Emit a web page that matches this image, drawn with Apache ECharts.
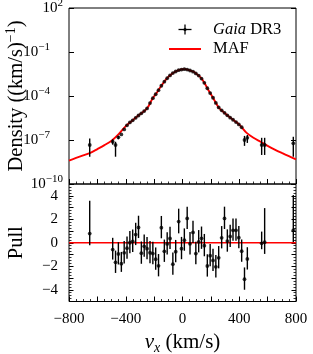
<!DOCTYPE html>
<html><head><meta charset="utf-8">
<script src="https://cdn.jsdelivr.net/npm/echarts@6/dist/echarts.min.js"></script>
<style>html,body{margin:0;padding:0;background:#fff}#c{width:313px;height:354px}</style>
</head><body><div id="c"></div>
<script>
// ---- data ----
const binV = [-654, -492, -472, -452, -431, -411, -391, -371, -351, -330, -310, -290, -270, -250, -229, -209, -189, -169, -149, -128, -108, -88, -68, -48, -27, -7, 13, 33, 53, 74, 94, 114, 134, 154, 175, 195, 215, 235, 255, 276, 296, 316, 336, 356, 377, 397, 417, 437, 457, 558, 579, 781];
const densityLog10 = [-7.34, -7.12, -7.34, -6.82, -6.62, -6.28, -6.00, -5.80, -5.66, -5.49, -5.33, -5.18, -5.03, -4.85, -4.48, -4.15, -3.88, -3.60, -3.30, -3.02, -2.79, -2.60, -2.44, -2.33, -2.24, -2.20, -2.17, -2.20, -2.26, -2.34, -2.46, -2.61, -2.81, -3.10, -3.47, -3.80, -4.12, -4.47, -4.78, -4.98, -5.15, -5.32, -5.48, -5.62, -5.78, -5.94, -6.13, -7.00, -6.85, -7.34, -7.34, -7.23];
const pull = [0.78, -0.58, -1.67, -0.95, -1.78, -0.86, -0.46, 0.00, 0.12, 0.70, 1.30, -0.89, -0.30, -0.50, -0.85, -0.92, -1.40, -1.96, 1.28, -0.73, -0.10, 0.36, -1.82, -0.76, 1.80, -0.50, 0.22, 2.07, -0.09, 0.88, -0.92, 0.08, 0.38, -0.25, -1.98, -1.10, -1.50, -2.05, -1.28, 0.42, 2.07, 0.14, 0.54, 1.06, 1.06, 0.43, -0.72, -3.10, -1.38, -0.05, 0.05, 1.06];
const pullErrUp = [2.8, 1.0, 1.0, 1.0, 1.0, 1.0, 1.0, 1.0, 1.0, 1.0, 1.0, 1.0, 1.0, 1.0, 1.0, 1.0, 1.0, 1.0, 1.0, 1.0, 1.0, 1.0, 1.0, 1.0, 1.1, 1.0, 1.0, 1.0, 1.0, 1.0, 1.0, 1.0, 1.0, 1.0, 1.0, 1.0, 1.0, 1.0, 1.0, 1.0, 1.0, 1.0, 1.0, 1.0, 1.0, 1.0, 1.0, 1.0, 1.0, 1.0, 2.9, 3.0];
const pullErrDown = [1.0, 0.85, 0.9, 0.9, 0.7, 0.9, 0.9, 0.9, 0.9, 0.9, 0.9, 0.9, 0.9, 0.9, 0.9, 0.9, 0.9, 0.9, 0.9, 0.9, 0.9, 0.9, 0.9, 0.9, 1.0, 0.9, 0.9, 0.9, 0.9, 0.9, 0.9, 0.9, 0.9, 0.9, 0.9, 0.9, 0.9, 0.9, 0.9, 0.9, 0.9, 0.9, 0.9, 0.9, 0.9, 0.9, 0.9, 0.9, 0.9, 0.5, 1.0, 1.0];
// visible density error bars (log10 of upper / lower ends)
const errBarV = [-654, -492, -472, -452, 437, 457, 558, 579, 781];
const errBarHiLog10 = [-6.89, -6.95, -7.12, -6.72, -6.72, -6.66, -6.85, -6.85, -6.78];
const errBarLoLog10 = [-8.14, -7.32, -8.14, -6.95, -7.40, -7.20, -8.02, -8.02, -8.14];
// MAF model curve
const modelV = [-800, -750, -700, -650, -600, -550, -500, -450, -400, -350, -300, -260, -240, -220, -200, -180, -160, -140, -120, -100, -80, -60, -40, -20, 0, 20, 40, 60, 80, 100, 120, 140, 160, 180, 200, 220, 240, 260, 290, 320, 360, 400, 450, 500, 550, 600, 650, 700, 750, 800];
const modelLog10 = [-8.40, -8.22, -8.05, -7.88, -7.62, -7.35, -7.05, -6.60, -6.05, -5.65, -5.25, -4.95, -4.70, -4.32, -4.02, -3.76, -3.46, -3.18, -2.92, -2.70, -2.53, -2.40, -2.29, -2.22, -2.18, -2.17, -2.22, -2.28, -2.36, -2.50, -2.66, -2.88, -3.20, -3.56, -3.88, -4.20, -4.55, -4.85, -5.10, -5.35, -5.65, -5.95, -6.50, -6.85, -7.12, -7.40, -7.65, -7.88, -8.10, -8.32];
const xTickLabels = [-800, -400, 0, 400, 800];
const pullTickLabels = [-4, -2, 0, 2, 4];
const legendNames = ['Gaia DR3', 'MAF'];

const OFF = 10; // y axis of density panel shows log10(density) + OFF
const FONT = 'Liberation Serif';
const minus = s => String(s).replace('-', '\u2212');

const chart = echarts.init(document.getElementById('c'), null, {renderer: 'canvas'});

const tickCommon = {show: true, inside: true, length: 5, lineStyle: {color: '#000', width: 1}};
const minorCommon = {show: true, splitNumber: 4, length: 2.5, lineStyle: {color: '#000', width: 0.8}};
const noLine = {show: false, onZero: false};

function errLine(params, api) {
  const p1 = api.coord([api.value(0), api.value(1)]);
  const p2 = api.coord([api.value(0), api.value(2)]);
  return {type: 'line', shape: {x1: p1[0], y1: p1[1], x2: p2[0], y2: p2[1]},
          style: {stroke: '#000', lineWidth: 1.4}};
}

const option = {
  animation: false,
  backgroundColor: '#fff',
  grid: [
    {left: 69, top: 8, width: 227, height: 176, show: true, borderColor: '#000', borderWidth: 1, backgroundColor: 'transparent', outerBoundsMode: 'none', containLabel: false},
    {left: 69, top: 184, width: 227, height: 117.5, show: true, borderColor: '#000', borderWidth: 1, backgroundColor: 'transparent', outerBoundsMode: 'none', containLabel: false}
  ],
  xAxis: [
    {gridIndex: 0, type: 'value', min: -800, max: 800, interval: 200,
     axisLine: noLine, axisTick: tickCommon, minorTick: minorCommon,
     axisLabel: {show: false}, splitLine: {show: false}, minorSplitLine: {show: false}},
    {gridIndex: 1, type: 'value', min: -800, max: 800, interval: 200,
     axisLine: noLine, axisTick: tickCommon, minorTick: minorCommon,
     splitLine: {show: false},
     axisLabel: {margin: 10, fontFamily: FONT, fontSize: 15, color: '#000',
       formatter: v => xTickLabels.indexOf(v) >= 0 ? minus(v) : ''},
     name: '{v|v}{s|x}{t| (km/s)}', nameLocation: 'middle', nameGap: 28, nameMoveOverlap: false,
     nameTextStyle: {rich: {
       v: {fontFamily: FONT, fontStyle: 'italic', fontSize: 21, color: '#000', lineHeight: 26, verticalAlign: 'middle'},
       s: {fontFamily: FONT, fontStyle: 'italic', fontSize: 14, color: '#000', lineHeight: 10, verticalAlign: 'bottom'},
       t: {fontFamily: FONT, fontSize: 21, color: '#000', lineHeight: 26, verticalAlign: 'middle'}
     }}}
  ],
  yAxis: [
    {gridIndex: 0, type: 'value', min: 0, max: 12, interval: 3, position: 'left',
     axisLine: noLine, axisTick: tickCommon, splitLine: {show: false},
     axisLabel: {margin: 6, color: '#000',
       formatter: v => {
         const e = Math.round(v - OFF);
         const pad = (e === 2 || e === -10) ? '' : '{p|}';
         return '{n|10}{s|' + minus(e) + '}' + pad;
       },
       rich: {
         n: {fontFamily: FONT, fontSize: 15, color: '#000', lineHeight: 20, verticalAlign: 'middle'},
         s: {fontFamily: FONT, fontSize: 11, color: '#000', lineHeight: 10, verticalAlign: 'top'},
         p: {width: 13}
       }},
     name: '{t|Density ((km/s)}{s|\u22121}{t|)}', nameLocation: 'middle', nameGap: 39, nameRotate: 90, nameMoveOverlap: false,
     nameTextStyle: {rich: {
       t: {fontFamily: FONT, fontSize: 20.5, color: '#000', lineHeight: 26, verticalAlign: 'middle'},
       s: {fontFamily: FONT, fontSize: 14, color: '#000', lineHeight: 12, verticalAlign: 'top'}
     }}},
    {gridIndex: 0, type: 'value', min: 0, max: 12, interval: 3, position: 'right',
     axisLine: noLine, axisTick: tickCommon, axisLabel: {show: false}, splitLine: {show: false}},
    {gridIndex: 1, type: 'value', min: -5, max: 5, interval: 1, position: 'left',
     axisLine: noLine, axisTick: {show: true, inside: true, length: 4.5, lineStyle: {color: '#000'}},
     minorTick: minorCommon, splitLine: {show: false},
     axisLabel: {margin: 11, fontFamily: FONT, fontSize: 15, color: '#000',
       formatter: v => pullTickLabels.indexOf(v) >= 0 ? minus(v) : ''},
     name: 'Pull', nameLocation: 'middle', nameGap: 42, nameRotate: 90, nameMoveOverlap: false,
     nameTextStyle: {fontFamily: FONT, fontSize: 20.5, color: '#000'}},
    {gridIndex: 1, type: 'value', min: -5, max: 5, interval: 1, position: 'right',
     axisLine: noLine, axisTick: {show: true, inside: true, length: 4.5, lineStyle: {color: '#000'}},
     minorTick: minorCommon, axisLabel: {show: false}, splitLine: {show: false}}
  ],
  series: [
    {name: legendNames[1], type: 'line', xAxisIndex: 0, yAxisIndex: 0, showSymbol: false, smooth: 0.3,
     data: modelV.map((v, i) => [v, modelLog10[i] + OFF]),
     lineStyle: {color: '#ff0000', width: 1.9}, z: 2},
    {type: 'custom', xAxisIndex: 0, yAxisIndex: 0, renderItem: errLine,
     data: errBarV.map((v, i) => [v, errBarLoLog10[i] + OFF, errBarHiLog10[i] + OFF]), z: 3},
    {name: legendNames[0], type: 'scatter', xAxisIndex: 0, yAxisIndex: 0, symbolSize: 3.8,
     data: binV.map((v, i) => [v, densityLog10[i] + OFF]), itemStyle: {color: '#000'}, z: 4},
    {type: 'line', xAxisIndex: 1, yAxisIndex: 2, showSymbol: false,
     data: [[-800, 0], [800, 0]], lineStyle: {color: '#ff0000', width: 1.5}, z: 2},
    {type: 'custom', xAxisIndex: 1, yAxisIndex: 2, renderItem: errLine,
     data: binV.map((v, i) => [v, pull[i] - pullErrDown[i], pull[i] + pullErrUp[i]]), z: 3},
    {type: 'scatter', xAxisIndex: 1, yAxisIndex: 2, symbolSize: 3.8,
     data: binV.map((v, i) => [v, pull[i]]), itemStyle: {color: '#000'}, z: 4}
  ],
  graphic: [
    {type: 'line', shape: {x1: 178.5, y1: 29.5, x2: 191.5, y2: 29.5}, style: {stroke: '#000', lineWidth: 1.3}},
    {type: 'line', shape: {x1: 185, y1: 24.5, x2: 185, y2: 34.5}, style: {stroke: '#000', lineWidth: 1.3}},
    {type: 'circle', shape: {cx: 185, cy: 29.5, r: 1.6}, style: {fill: '#000'}},
    {type: 'text', x: 213, y: 29.5, style: {text: '{i|Gaia} DR3', fill: '#000', font: '16.5px "Liberation Serif"', verticalAlign: 'middle',
      rich: {i: {fontStyle: 'italic', fontFamily: FONT, fontSize: 16.5, fill: '#000'}}}},
    {type: 'line', shape: {x1: 169, y1: 49, x2: 201, y2: 49}, style: {stroke: '#ff0000', lineWidth: 2}},
    {type: 'text', x: 213, y: 49, style: {text: 'MAF', fill: '#000', font: '16.5px "Liberation Serif"', verticalAlign: 'middle'}}
  ]
};
chart.setOption(option);
</script></body></html>
